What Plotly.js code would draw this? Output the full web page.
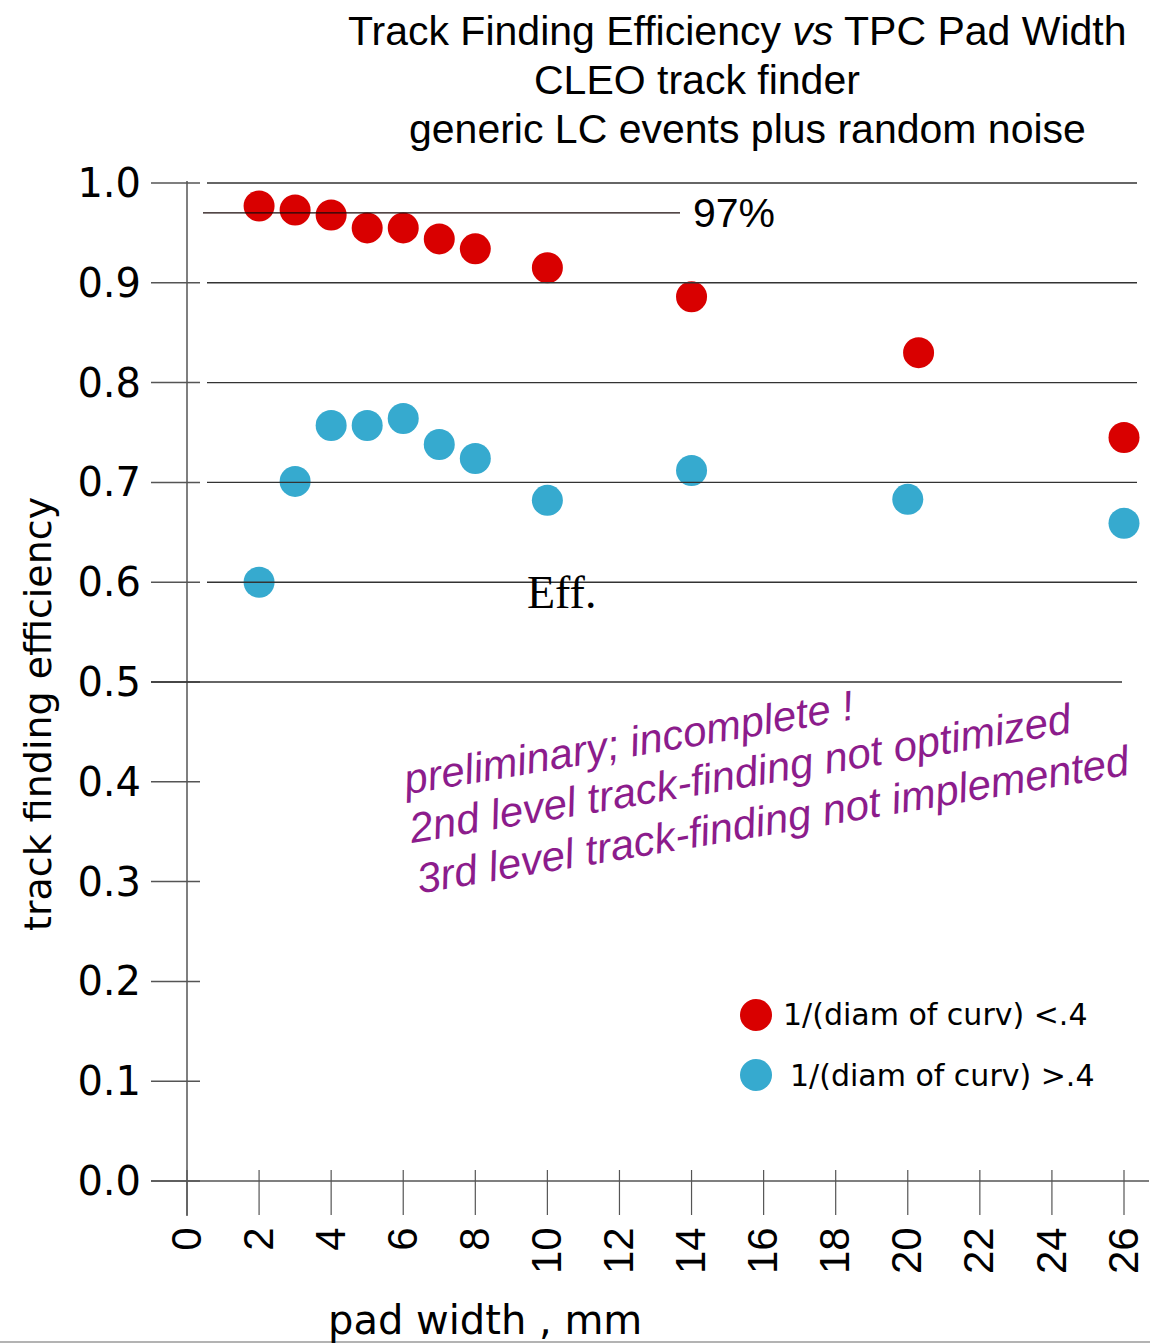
<!DOCTYPE html>
<html>
<head>
<meta charset="utf-8">
<script src="https://cdn.plot.ly/plotly-3.0.1.min.js"></script>
<style>
  html, body { margin: 0; padding: 0; background: #ffffff; }
  #chart { width: 1150px; height: 1343px; }
</style>
</head>
<body>
<div id="chart"></div>
<script>
// Track finding efficiency vs TPC pad width (CLEO track finder)
const padWidthLowCurv = [2, 3, 4, 5, 6, 7, 8, 10, 14, 20.3, 26];
const effLowCurv      = [0.977, 0.973, 0.968, 0.955, 0.955, 0.944, 0.934, 0.915, 0.886, 0.830, 0.745];
const padWidthHighCurv = [2, 3, 4, 5, 6, 7, 8, 10, 14, 20, 26];
const effHighCurv      = [0.600, 0.701, 0.757, 0.757, 0.764, 0.738, 0.724, 0.682, 0.712, 0.683, 0.659];

const seriesNames = ['1/(diam of curv) <.4', '1/(diam of curv) >.4'];
const xTickVals = [0, 2, 4, 6, 8, 10, 12, 14, 16, 18, 20, 22, 24, 26];
const yTickVals = [0, 0.1, 0.2, 0.3, 0.4, 0.5, 0.6, 0.7, 0.8, 0.9, 1.0];
const yTickText = ['0.0', '0.1', '0.2', '0.3', '0.4', '0.5', '0.6', '0.7', '0.8', '0.9', '1.0'];
const gridLevels = [0.6, 0.7, 0.8, 0.9, 1.0];
const halfLevel = 0.5;
const refLevel = 0.97;
const refLabel = '97%';

// page geometry
const W = 1150, H = 1343;
const M = { l: 151, r: 1, t: 181, b: 127 };
const PW = W - M.l - M.r, PH = H - M.t - M.b;
const X0 = 187, XS = 937 / 26;    // pixel of x=0, pixels per mm
const Y0 = 1181, YS = 998;        // pixel of y=0, pixels per unit
const dx = p => (p - X0) / XS;
const dy = p => (Y0 - p) / YS;
const px = p => (p - M.l) / PW;
const py = p => (H - M.b - p) / PH;

const RED = '#d90000';
const BLUE = '#36aacf';
const PURPLE = '#8c1c8c';
const AXIS = '#555555';
const GRID = '#333333';

const traces = [
  {
    x: padWidthLowCurv, y: effLowCurv, name: seriesNames[0],
    type: 'scatter', mode: 'markers', cliponaxis: false, showlegend: false,
    marker: { color: RED, size: 31, line: { width: 0 } }
  },
  {
    x: padWidthHighCurv, y: effHighCurv, name: seriesNames[1],
    type: 'scatter', mode: 'markers', cliponaxis: false, showlegend: false,
    marker: { color: BLUE, size: 31, line: { width: 0 } }
  }
];

const shapes = [];
// axes
shapes.push({ type: 'line', xref: 'x', yref: 'y', x0: 0, x1: 0, y0: dy(H - M.b), y1: dy(M.t),
  line: { color: AXIS, width: 1.5 } });
shapes.push({ type: 'line', xref: 'x', yref: 'y', x0: dx(M.l), x1: dx(W - M.r), y0: 0, y1: 0,
  line: { color: AXIS, width: 1.5 } });
// x ticks crossing the axis
xTickVals.forEach(v => shapes.push({ type: 'line', xref: 'x', yref: 'y',
  x0: v, x1: v, y0: dy(1170), y1: dy(1215), line: { color: AXIS, width: 1.2 } }));
// y ticks crossing the axis
yTickVals.forEach(v => shapes.push({ type: 'line', xref: 'x', yref: 'y',
  x0: dx(M.l), x1: dx(200), y0: v, y1: v, line: { color: AXIS, width: 1.5 } }));
// horizontal reference lines
gridLevels.forEach(v => shapes.push({ type: 'line', xref: 'x', yref: 'y',
  x0: dx(207), x1: dx(1137), y0: v, y1: v, line: { color: GRID, width: 1.4 } }));
shapes.push({ type: 'line', xref: 'x', yref: 'y', x0: dx(M.l), x1: dx(1122), y0: halfLevel, y1: halfLevel,
  line: { color: GRID, width: 1.4 } });
shapes.push({ type: 'line', xref: 'x', yref: 'y', x0: dx(203), x1: dx(680), y0: refLevel, y1: refLevel,
  line: { color: '#1a0a0a', width: 1.3 } });
// legend symbols
[[756, 1015, RED], [756, 1075, BLUE]].forEach(([cx, cy, c]) => shapes.push({
  type: 'circle', xref: 'paper', yref: 'paper', xsizemode: 'pixel', ysizemode: 'pixel',
  xanchor: px(cx), yanchor: py(cy), x0: -16, x1: 16, y0: -16, y1: 16,
  fillcolor: c, line: { width: 0 } }));
// frame edge at the bottom
shapes.push({ type: 'line', xref: 'paper', yref: 'paper', x0: px(0), x1: px(W), y0: py(1342), y1: py(1342),
  line: { color: '#9a9a9a', width: 1.5 } });

const sans = 'Liberation Sans, Arial, sans-serif';
const wide = 'DejaVu Sans, Verdana, sans-serif';
const annotations = [
  { text: 'Track Finding Efficiency <i>vs</i> TPC Pad Width', x: px(737), y: py(31), font: { family: sans, size: 41, color: '#000' } },
  { text: 'CLEO track finder', x: px(697), y: py(80), font: { family: sans, size: 41, color: '#000' } },
  { text: 'generic LC events plus random noise', x: px(747), y: py(129), font: { family: sans, size: 41, color: '#000' } },
  { text: 'track finding efficiency', x: px(38), y: py(714), textangle: -90, font: { family: wide, size: 38, color: '#000' } },
  { text: 'pad width , mm', x: px(485), y: py(1320), font: { family: wide, size: 40, color: '#000' } },
  { text: seriesNames[0], x: px(781), y: py(1015), xanchor: 'left', font: { family: wide, size: 30, color: '#000' } },
  { text: seriesNames[1], x: px(788), y: py(1075), xanchor: 'left', font: { family: wide, size: 30, color: '#000' } },
  { text: '<i>preliminary; incomplete !</i>', x: px(628), y: py(742), textangle: -9.5, font: { family: sans, size: 42, color: PURPLE } },
  { text: '<i>2nd level track-finding not optimized</i>', x: px(740), y: py(773), textangle: -9.5, font: { family: sans, size: 42, color: PURPLE } },
  { text: '<i>3rd level track-finding not implemented</i>', x: px(773), y: py(819), textangle: -9.5, font: { family: sans, size: 42, color: PURPLE } }
].map(a => Object.assign({ xref: 'paper', yref: 'paper', showarrow: false, xanchor: 'center', yanchor: 'middle' }, a));
// labels tied to data values
annotations.push({ xref: 'x', yref: 'y', x: dx(691), y: refLevel, text: refLabel, showarrow: false,
  xanchor: 'left', yanchor: 'middle', font: { family: sans, size: 41, color: '#000' } });
annotations.push({ xref: 'x', yref: 'y', x: dx(561), y: dy(592), text: 'Eff.', showarrow: false,
  xanchor: 'center', yanchor: 'middle', font: { family: 'Liberation Serif, Times New Roman, serif', size: 46, color: '#000' } });

const layout = {
  width: W, height: H,
  margin: M,
  paper_bgcolor: '#ffffff', plot_bgcolor: '#ffffff',
  showlegend: false,
  xaxis: {
    range: [dx(M.l), dx(W - M.r)], showgrid: false, zeroline: false, showline: false,
    tickmode: 'array', tickvals: xTickVals, ticks: '', tickangle: -90,
    ticklabelstandoff: 2,
    tickfont: { family: 'Liberation Sans Narrow, Arial Narrow, Liberation Sans, sans-serif', size: 42, color: '#000' }
  },
  yaxis: {
    range: [dy(H - M.b), dy(M.t)], showgrid: false, zeroline: false, showline: false,
    tickmode: 'array', tickvals: yTickVals, ticktext: yTickText, ticks: '',
    ticklabelstandoff: 9,
    tickfont: { family: wide, size: 40, color: '#000' }
  },
  shapes: shapes,
  annotations: annotations
};

Plotly.newPlot('chart', traces, layout, { staticPlot: true, displayModeBar: false });
</script>
</body>
</html>
